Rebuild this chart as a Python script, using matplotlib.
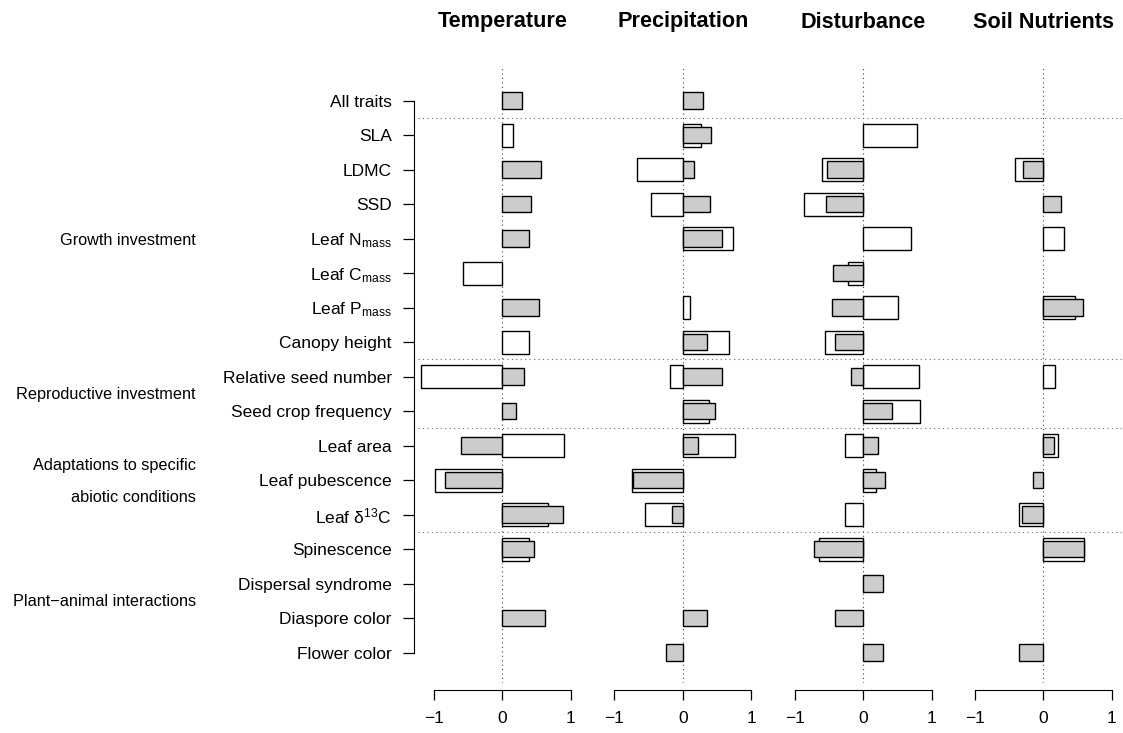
import numpy as np
import matplotlib
matplotlib.use("Agg")
import matplotlib.pyplot as plt
from matplotlib.lines import Line2D
from matplotlib.transforms import blended_transform_factory

plt.rcParams['font.family'] = ['Liberation Sans', 'DejaVu Sans']
plt.rcParams['mathtext.default'] = 'regular'

nan = np.nan

traits = ["All traits", "SLA", "LDMC", "SSD", r"Leaf N$_{mass}$", r"Leaf C$_{mass}$",
          r"Leaf P$_{mass}$", "Canopy height", "Relative seed number", "Seed crop frequency",
          "Leaf area", "Leaf pubescence", r"Leaf δ$^{13}$C", "Spinescence",
          "Dispersal syndrome", "Diaspore color", "Flower color"]

panels = ["Temperature", "Precipitation", "Disturbance", "Soil Nutrients"]

# open bars (drawn underneath) and grey bars (drawn on top), one value per trait
temp_open = [nan, 0.15, nan, nan, nan, -0.58, nan, 0.39, -1.18, nan, 0.905, -0.98, 0.67, 0.39, nan, nan, nan]
temp_grey = [0.29, nan, 0.56, 0.42, 0.39, nan, 0.53, nan, 0.32, 0.20, -0.61, -0.84, 0.89, 0.47, nan, 0.63, nan]

prec_open = [nan, 0.27, -0.67, -0.47, 0.73, nan, 0.11, 0.67, -0.19, 0.39, 0.77, -0.74, -0.55, nan, nan, nan, nan]
prec_grey = [0.29, 0.41, 0.17, 0.40, 0.58, nan, nan, 0.36, 0.57, 0.47, 0.23, -0.73, -0.15, nan, nan, 0.35, -0.25]

dist_open = [nan, 0.79, -0.61, -0.87, 0.70, -0.22, 0.51, -0.56, 0.81, 0.83, -0.27, 0.18, -0.26, -0.64, nan, nan, nan]
dist_grey = [nan, nan, -0.53, -0.54, nan, -0.44, -0.45, -0.42, -0.18, 0.42, 0.22, 0.32, nan, -0.72, 0.29, -0.42, 0.29]

soil_open = [nan, nan, -0.41, nan, 0.30, nan, 0.46, nan, 0.17, nan, 0.21, nan, -0.36, 0.60, nan, nan, nan]
soil_grey = [nan, nan, -0.29, 0.26, nan, nan, 0.58, nan, nan, nan, 0.16, -0.15, -0.31, 0.59, nan, nan, -0.35]

open_vals = [temp_open, prec_open, dist_open, soil_open]
grey_vals = [temp_grey, prec_grey, dist_grey, soil_grey]

# group labels: (text, row position)
groups = [("Growth investment", 4.04), ("Reproductive investment", 8.53),
          ("Adaptations to specific", 10.56), ("abiotic conditions", 11.51),
          ("Plant\u2212animal interactions", 14.53)]
separators = [0.5, 7.5, 9.5, 12.5]

W, H = 1123, 733
fig = plt.figure(figsize=(W / 100, H / 100), dpi=100)

centers = [502.3, 682.7, 863.3, 1043.3]
px_per_unit = 68.5
half = 1.23
top_px, bot_px = 68, 683
row_px, row0_px = 34.5, 100.7
ylim = ((bot_px - row0_px) / row_px, -(row0_px - top_px) / row_px)
y = np.arange(len(traits))

axes = []
for i, (c, name) in enumerate(zip(centers, panels)):
    left = (c - half * px_per_unit) / W
    ax = fig.add_axes([left, 1 - bot_px / H, 2 * half * px_per_unit / W, (bot_px - top_px) / H])
    ax.set_xlim(-half, half)
    ax.set_ylim(*ylim)
    ov = np.array(open_vals[i], dtype=float)
    gv = np.array(grey_vals[i], dtype=float)
    m = np.isfinite(ov)
    ax.barh(y[m], ov[m], height=0.66, color='white', edgecolor='black', linewidth=1.0, zorder=2)
    m = np.isfinite(gv)
    ax.barh(y[m], gv[m], height=0.48, color='#cccccc', edgecolor='black', linewidth=1.0, zorder=3)
    ax.axvline(0, color='0.25', linestyle=(0, (1, 3)), linewidth=0.8, zorder=1)

    for s in ['top', 'right', 'left']:
        ax.spines[s].set_visible(False)
    ax.spines['bottom'].set_bounds(-1, 1)
    ax.spines['bottom'].set_position(('outward', 5))
    ax.set_xticks([-1, 0, 1])
    ax.set_xticklabels(["\u22121", "0", "1"])
    ax.tick_params(axis='x', length=7.5, width=0.9, labelsize=12.5, pad=8)
    ax.set_yticks([])
    ax.patch.set_visible(False)
    fig.text(c / W, 1 - 22 / H, name, ha='center', va='center', fontsize=15.6, fontweight='bold')
    axes.append(ax)

ax0 = axes[0]
ax0.spines['left'].set_visible(True)
ax0.spines['left'].set_position(('outward', 3))
ax0.spines['left'].set_bounds(0, len(traits) - 1)
ax0.set_yticks(y)
ax0.set_yticklabels(traits)
ax0.tick_params(axis='y', length=8, width=0.9, labelsize=12.5, pad=8)

trans = blended_transform_factory(fig.transFigure, ax0.transData)
for s in separators:
    fig.add_artist(Line2D([418 / W, 1.0], [s, s], transform=trans, color='0.4',
                          linestyle=(0, (1, 3)), linewidth=0.8))
for text, pos in groups:
    fig.text(196 / W, pos, text, transform=trans, ha='right', va='center', fontsize=11.7)

fig.savefig("out.png", dpi=100)
